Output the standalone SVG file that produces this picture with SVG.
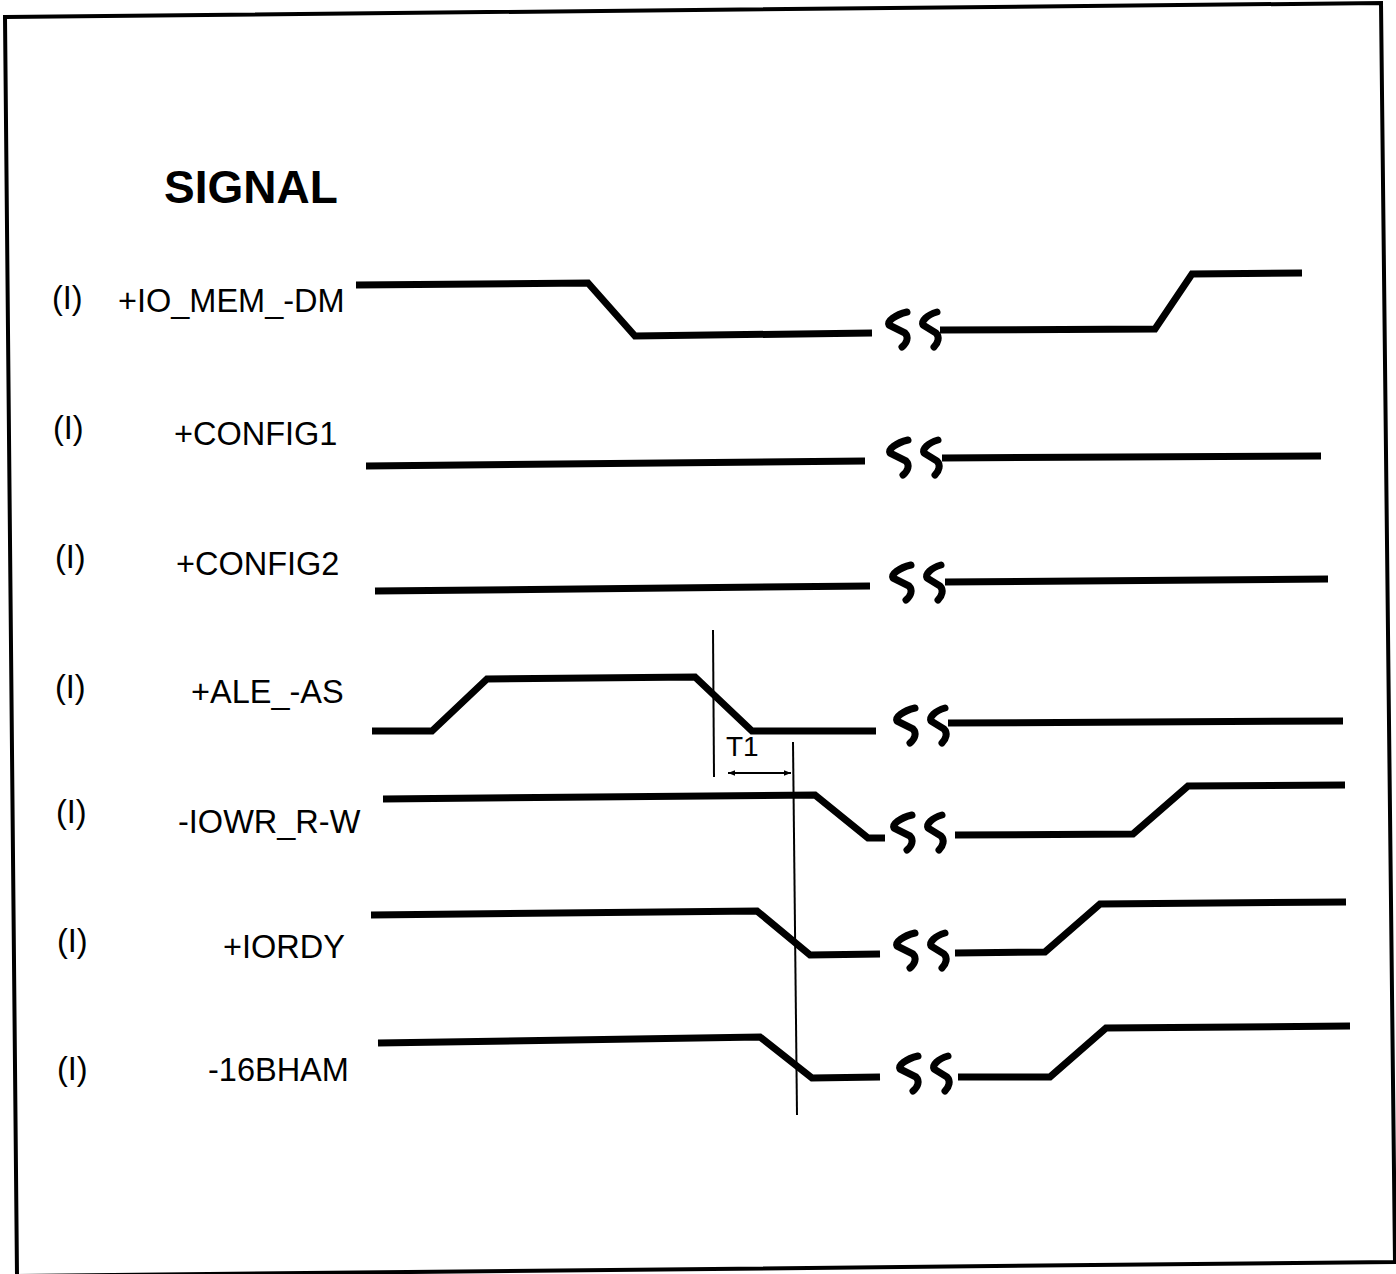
<svg xmlns="http://www.w3.org/2000/svg" width="1396" height="1274" viewBox="0 0 1396 1274">
<style>
.wave{fill:none;stroke:#000;stroke-width:7;stroke-linejoin:miter;stroke-linecap:butt}
.brk{fill:none;stroke:#000;stroke-width:7;stroke-linecap:round;stroke-linejoin:round}
.thin{fill:none;stroke:#000;stroke-width:2}
.lbl{font-family:"Liberation Sans",Arial,Helvetica,sans-serif;font-size:32.5px;fill:#000}
.title{font-family:"Liberation Sans",Arial,Helvetica,sans-serif;font-size:46px;font-weight:bold;fill:#000}
.t1{font-family:"Liberation Sans",Arial,Helvetica,sans-serif;font-size:28px;fill:#000}
</style>
<defs>
<g id="break">
<path class="brk" d="M22,-19 C10,-16 2,-10 4,-6 L20,2 C24,6 22,12 17,16"/>
<path class="brk" d="M52,-19 C42,-16 36,-10 38,-6 L51,2 C55,6 53,12 49,16"/>
</g>
<marker id="ah" viewBox="0 0 10 10" refX="10" refY="5" markerWidth="7" markerHeight="7" orient="auto-start-reverse" markerUnits="userSpaceOnUse">
<path d="M0,1 L10,5 L0,9 z" fill="#000"/>
</marker>
</defs>
<rect width="1396" height="1274" fill="#fff"/>
<polygon id="frame" points="5,17 1381,3 1395,1262 17,1276" fill="none" stroke="#000" stroke-width="4"/>
<text class="title" x="164" y="203">SIGNAL</text>

<g id="sig-io-mem">
<text class="lbl" x="52" y="309">(I)</text>
<text class="lbl" x="118" y="312">+IO_MEM_-DM</text>
<path class="wave" d="M356,285 L588,283 L635,336 L872,333"/>
<path class="wave" d="M940,330 L1155,329 L1192,274 L1302,273"/>
<use href="#break" x="885" y="331"/>
</g>

<g id="sig-config1">
<text class="lbl" x="53" y="439">(I)</text>
<text class="lbl" x="174" y="445">+CONFIG1</text>
<path class="wave" d="M366,466 L865,461"/>
<path class="wave" d="M942,458 L1321,456"/>
<use href="#break" x="886" y="459"/>
</g>

<g id="sig-config2">
<text class="lbl" x="55" y="568">(I)</text>
<text class="lbl" x="176" y="575">+CONFIG2</text>
<path class="wave" d="M375,591 L870,586"/>
<path class="wave" d="M945,582 L1328,579"/>
<use href="#break" x="889" y="584"/>
</g>

<g id="sig-ale">
<text class="lbl" x="55" y="698">(I)</text>
<text class="lbl" x="191" y="703">+ALE_-AS</text>
<path class="wave" d="M372,731 L432,731 L487,679 L695,677 L752,731 L876,731"/>
<path class="wave" d="M948,723 L1343,721"/>
<use href="#break" x="893" y="727"/>
</g>

<g id="sig-iowr">
<text class="lbl" x="56" y="823">(I)</text>
<text class="lbl" x="178" y="833">-IOWR_R-W</text>
<path class="wave" d="M383,799 L815,795 L868,838 L885,838"/>
<path class="wave" d="M955,835 L1133,834 L1188,786 L1345,785"/>
<use href="#break" x="890" y="834"/>
</g>

<g id="sig-iordy">
<text class="lbl" x="57" y="952">(I)</text>
<text class="lbl" x="223" y="958">+IORDY</text>
<path class="wave" d="M371,915 L757,911 L810,955 L880,954"/>
<path class="wave" d="M955,953 L1045,952 L1100,904 L1346,902"/>
<use href="#break" x="893" y="952"/>
</g>

<g id="sig-16bham">
<text class="lbl" x="57" y="1080">(I)</text>
<text class="lbl" x="208" y="1081">-16BHAM</text>
<path class="wave" d="M378,1043 L760,1037 L812,1078 L880,1077"/>
<path class="wave" d="M958,1077 L1050,1077 L1106,1028 L1350,1026"/>
<use href="#break" x="896" y="1075"/>
</g>

<g id="timing-t1">
<line class="thin" x1="713" y1="630" x2="714" y2="777"/>
<line class="thin" x1="793" y1="742" x2="797" y2="1115"/>
<text class="t1" x="726" y="756">T1</text>
<line class="thin" x1="728" y1="773" x2="791" y2="773" marker-start="url(#ah)" marker-end="url(#ah)"/>
</g>
</svg>
